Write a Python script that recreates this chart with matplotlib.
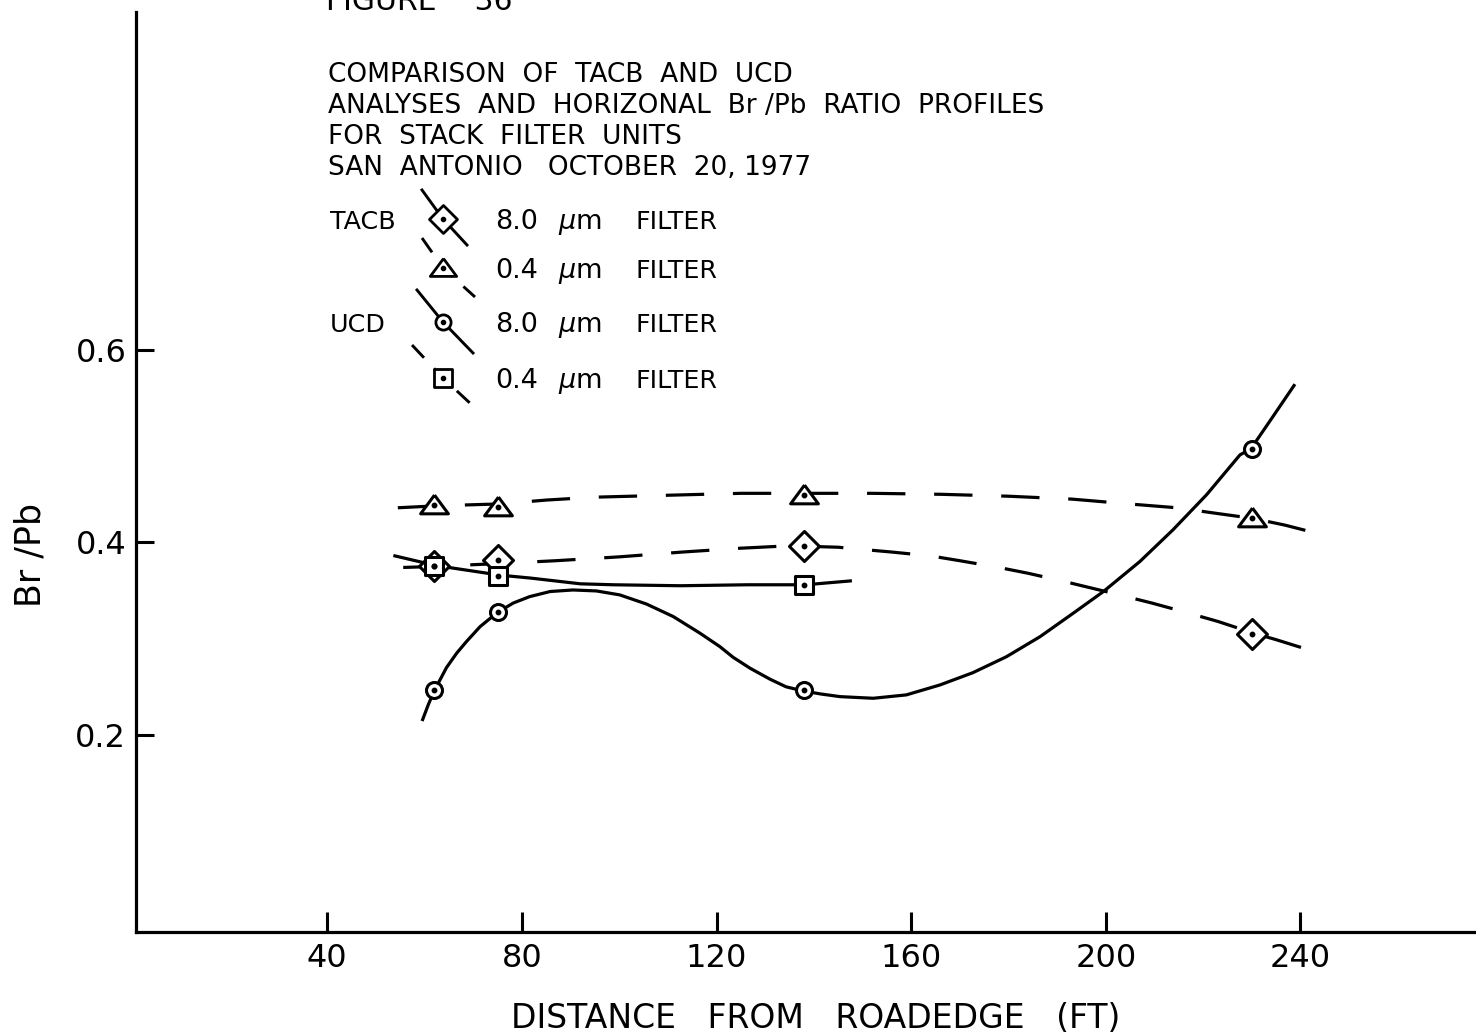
import numpy as np
import matplotlib
matplotlib.use("Agg")
import matplotlib.pyplot as plt
from matplotlib.markers import MarkerStyle

# ---- measured points (distance ft, Br/Pb) ----
tacb8_x = [62, 75, 138, 230]
tacb8_y = [0.376, 0.382, 0.396, 0.305]
tacb04_x = [62, 75, 138, 230]
tacb04_y = [0.439, 0.437, 0.449, 0.425]
ucd8_x = [62, 75, 138, 230]
ucd8_y = [0.247, 0.328, 0.247, 0.497]
ucd04_x = [62, 75, 138]
ucd04_y = [0.376, 0.365, 0.356]

# ---- hand-fitted profile curves ----
tacb8_cx = [55.6, 62, 75, 87, 100, 113, 125, 133, 138.3, 145, 156, 164, 170, 178, 184, 191, 200,
            209.5, 216, 223, 230.2, 235, 242.6]
tacb8_cy = [0.374, 0.375, 0.378, 0.381, 0.385, 0.390, 0.394, 0.396, 0.396, 0.395, 0.390, 0.386, 0.381,
            0.374, 0.368, 0.360, 0.349, 0.337, 0.328, 0.318, 0.306, 0.299, 0.287]
tacb04_cx = [54.5, 62.5, 75.5, 85, 95, 110, 125, 138, 152, 166, 180, 193, 204.7, 214.6, 223, 230.2,
             236.8, 243]
tacb04_cy = [0.436, 0.438, 0.440, 0.444, 0.447, 0.449, 0.451, 0.451, 0.451, 0.450, 0.448, 0.445, 0.440,
             0.436, 0.430, 0.425, 0.418, 0.410]
ucd8_cx = [59.6, 60.8, 62.1, 64.5, 66.6, 68.6, 71.4, 74.9, 78.2, 81.6, 85.8, 90.5, 95.3, 100.1, 105.6,
           111.1, 116.6, 120.7, 123.4, 126.9, 131.0, 134.3, 137.8, 141.5, 145.4, 152.2, 159.0, 165.9,
           172.7, 179.6, 186.5, 193.3, 199.5, 207.0, 213.8, 220.7, 227.6, 229.8, 234.4, 238.7]
ucd8_cy = [0.216, 0.232, 0.247, 0.270, 0.285, 0.297, 0.3125, 0.327, 0.337, 0.3437, 0.349, 0.3506,
           0.3496, 0.3455, 0.336, 0.323, 0.3057, 0.2917, 0.2807, 0.2693, 0.2579, 0.250, 0.2457, 0.2425,
           0.2398, 0.2381, 0.2416, 0.2519, 0.2647, 0.2813, 0.3021, 0.3264, 0.3489, 0.3801, 0.4130,
           0.4494, 0.491, 0.497, 0.531, 0.563]
ucd04_cx = [53.9, 62.3, 75.5, 81.7, 92, 98.8, 112.6, 126.3, 138.3, 147.5]
ucd04_cy = [0.386, 0.376, 0.366, 0.363, 0.357, 0.356, 0.355, 0.356, 0.356, 0.360]

x_ticks = [40, 80, 120, 160, 200, 240]
y_ticks = [0.2, 0.4, 0.6]

title_lines = ["COMPARISON  OF  TACB  AND  UCD",
               "ANALYSES  AND  HORIZONAL  Br /Pb  RATIO  PROFILES",
               "FOR  STACK  FILTER  UNITS",
               "SAN  ANTONIO   OCTOBER  20, 1977"]

W, H = 1476, 1036
fig = plt.figure(figsize=(W / 100, H / 100), dpi=100)


def fxy(px, py):
    return px / W, 1 - py / H


ax = fig.add_axes([136 / W, 1 - 932 / H, (W - 136) / W, (932 - 12) / H])
ax.set_xlim(0.68, 276.1)
ax.set_ylim(-0.0047, 0.951)
for s in ["top", "right"]:
    ax.spines[s].set_visible(False)
for s in ["left", "bottom"]:
    ax.spines[s].set_linewidth(2.3)
ax.set_xticks(x_ticks)
ax.set_xticklabels([str(v) for v in x_ticks])
ax.set_yticks(y_ticks)
ax.set_yticklabels(["0.2", "0.4", "0.6"])
ax.tick_params(axis="x", direction="in", length=14.5, width=2.2, labelsize=23, pad=8)
ax.tick_params(axis="y", direction="in", length=13, width=2.2, labelsize=23, pad=7)

LW = 2.3
DASH = (12, 9)
ax.plot(tacb8_cx, tacb8_cy, color="black", lw=LW, dashes=DASH, zorder=2)
ax.plot(tacb04_cx, tacb04_cy, color="black", lw=LW, dashes=DASH, zorder=2)
ax.plot(ucd8_cx, ucd8_cy, color="black", lw=LW, zorder=2, solid_joinstyle="round")
ax.plot(ucd04_cx, ucd04_cy, color="black", lw=LW, zorder=2, solid_joinstyle="round")

# wide, squat triangle like the lettering template
tri = [(0, 0.75), (-1, -0.6), (1, -0.6), (0, 0.75)]
mk = {
    "D": dict(marker=MarkerStyle("D", joinstyle="round"), ms=15),
    "^": dict(marker=MarkerStyle(tri, joinstyle="round"), ms=20),
    "o": dict(marker="o", ms=11.5),
    "s": dict(marker=MarkerStyle("s", joinstyle="round"), ms=13.5),
}


def draw_marks(x, y, key, **kw):
    ax.plot(x, y, ls="none", mfc="white", mec="black", mew=2.2, zorder=4, **mk[key], **kw)
    ax.plot(x, y, ls="none", marker="o", ms=3.2, color="black", zorder=5, **kw)


draw_marks(tacb04_x, tacb04_y, "^")
draw_marks(ucd8_x, ucd8_y, "o")
draw_marks(tacb8_x, tacb8_y, "D")
draw_marks(ucd04_x, ucd04_y, "s")

# title block
fig.text(*fxy(326, 10), "FIGURE    36", fontsize=21.5, ha="left", va="baseline")
for i, line in enumerate(title_lines):
    fig.text(*fxy(328, 82 + 31 * i), line, fontsize=19, ha="left", va="baseline")

# key
key_rows = [
    ("TACB", "8.0", "D", (422, 190), (467, 245), False, 219),
    ("", "0.4", "^", (422, 238), (475, 297), True, 268),
    ("UCD", "8.0", "o", (417, 290), (473, 353), False, 322),
    ("", "0.4", "s", (412, 345), (472, 405), True, 378),
]
for label, size, key, p0, p1, dashed, yc in key_rows:
    xs = [fxy(*p0)[0], fxy(443, yc)[0], fxy(*p1)[0]]
    ys = [fxy(*p0)[1], fxy(443, yc)[1], fxy(*p1)[1]]
    style = dict(dashes=(6, 5)) if dashed else {}
    ax.plot(xs, ys, color="black", lw=2.1, transform=fig.transFigure, clip_on=False, zorder=3, **style)
    kx, ky = fxy(443, yc)
    ax.plot([kx], [ky], ls="none", mfc="white", mec="black", mew=2.0, transform=fig.transFigure,
            clip_on=False, zorder=4, **{**mk[key], "ms": mk[key]["ms"] * 0.95})
    ax.plot([kx], [ky], ls="none", marker="o", ms=3, color="black", transform=fig.transFigure,
            clip_on=False, zorder=5)
    if label:
        fig.text(*fxy(330, yc + 10), label, fontsize=18.3, ha="left", va="baseline")
    fig.text(*fxy(495, yc + 10), size, fontsize=19.5, ha="left", va="baseline")
    fig.text(*fxy(558, yc + 10), r"$\mu$m", fontsize=19.5, ha="left", va="baseline")
    fig.text(*fxy(635, yc + 10), "FILTER", fontsize=18.3, ha="left", va="baseline")

# axis titles
fig.text(*fxy(816, 1028), "DISTANCE   FROM   ROADEDGE   (FT)", fontsize=23.8, ha="center", va="baseline")
fig.text(*fxy(30, 555), "Br /Pb", fontsize=25, rotation=90, ha="center", va="center")

fig.savefig("out.png", dpi=100, facecolor="white")
